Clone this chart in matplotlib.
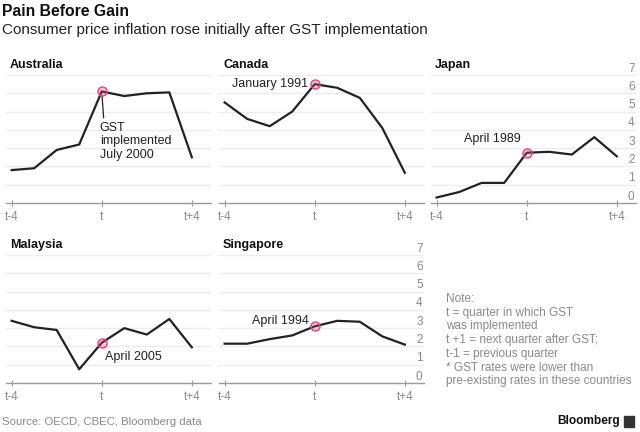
import numpy as np
import matplotlib
matplotlib.use("Agg")
import matplotlib.pyplot as plt
import matplotlib.transforms as mtransforms

plt.rcParams['font.family'] = ['Liberation Sans', 'DejaVu Sans']

W, H = 640, 432

# quarters relative to GST introduction
quarters = [-4, -3, -2, -1, 0, 1, 2, 3, 4]
tick_pos = [-4, 0, 4]
tick_labels = ["t-4", "t", "t+4"]
y_levels = [0, 1, 2, 3, 4, 5, 6, 7]

# consumer price inflation, %
australia = [1.8, 1.9, 2.9, 3.2, 6.1, 5.85, 6.0, 6.05, 2.5]
canada = [5.5, 4.6, 4.2, 5.0, 6.5, 6.3, 5.75, 4.1, 1.65]
japan = [0.3, 0.6, 1.1, 1.1, 2.75, 2.8, 2.65, 3.6, 2.55]
malaysia = [3.4, 3.05, 2.9, 0.75, 2.2, 3.0, 2.65, 3.5, 1.95]
singapore = [2.15, 2.15, 2.4, 2.6, 3.1, 3.4, 3.35, 2.55, 2.1]

LINE = "#222222"
PINK = "#e0457b"
GRID = "#ececec"
GREY = "#8a8a8a"


def px(x, y, w, h):
    # pixel box (from top-left) -> figure fraction rect
    return [x / W, 1 - (y + h) / H, w / W, h / H]


fig = plt.figure(figsize=(6.4, 4.32), dpi=100)

panels = [
    ("Australia", australia, 6, 75, False),
    ("Canada", canada, 219, 75, False),
    ("Japan", japan, 431, 75, True),
    ("Malaysia", malaysia, 6, 255, False),
    ("Singapore", singapore, 219, 255, True),
]

axes = {}
for name, vals, left, top, right_labels in panels:
    ax = fig.add_axes(px(left, top, 205, 128))
    ax.set_xlim(-4.25, 4.85)
    ax.set_ylim(0, 7)
    for v in y_levels[1:]:
        ax.axhline(v, color=GRID, lw=1, zorder=0)
    for s in ["top", "right", "left"]:
        ax.spines[s].set_visible(False)
    ax.spines["bottom"].set_color("#9a9a9a")
    ax.spines["bottom"].set_linewidth(1)
    ax.set_yticks([])
    ax.set_xticks(tick_pos)
    ax.set_xticklabels(tick_labels)
    ax.tick_params(axis="x", direction="inout", length=5, width=0.8,
                   color="#9a9a9a", labelcolor=GREY, labelsize=8.5, pad=3)
    ax.plot(quarters, vals, color=LINE, lw=1.6, clip_on=False, zorder=3)
    ax.plot([0], [vals[4]], "o", ms=6.5, mfc=(0.88, 0.27, 0.48, 0.3),
            mec=PINK, mew=1, zorder=4, clip_on=False)
    ax.annotate(name, xy=(0.02, 1.0), xycoords="axes fraction",
                xytext=(0, 3), textcoords="offset points", fontsize=9,
                fontweight="bold", color="#111111", va="bottom", ha="left")
    if right_labels:
        for v in y_levels:
            ax.annotate(str(v), xy=(1.0, v),
                        xycoords=mtransforms.blended_transform_factory(ax.transAxes, ax.transData),
                        xytext=(-1, 0.3), textcoords="offset points",
                        ha="right", va="bottom", fontsize=8.5, color=GREY)
    axes[name] = ax

# annotations
axes["Australia"].annotate("GST\nimplemented\nJuly 2000", xy=(0, australia[4]),
                           xytext=(-1.5, -22), textcoords="offset points",
                           ha="left", va="top", fontsize=9, color="#222222",
                           linespacing=1.15,
                           arrowprops=dict(arrowstyle="-", color="#222222", lw=0.9,
                                           relpos=(0.06, 1.0), shrinkA=1, shrinkB=3))
axes["Canada"].annotate("January 1991", xy=(0, canada[4]), xytext=(-5, 0),
                        textcoords="offset points", ha="right", va="center",
                        fontsize=9, color="#222222")
axes["Japan"].annotate("April 1989", xy=(0, japan[4]), xytext=(-4, 10),
                       textcoords="offset points", ha="right", va="center",
                       fontsize=9, color="#222222")
axes["Malaysia"].annotate("April 2005", xy=(0, malaysia[4]), xytext=(2, -10),
                          textcoords="offset points", ha="left", va="center",
                          fontsize=9, color="#222222")
axes["Singapore"].annotate("April 1994", xy=(0, singapore[4]), xytext=(-4, 4),
                           textcoords="offset points", ha="right", va="center",
                           fontsize=9, color="#222222")

# headline
fig.text(2 / W, 1 - 11 / H, "Pain Before Gain", fontsize=11.3, fontweight="bold",
         color="#111111", va="center", ha="left")
fig.text(2 / W, 1 - 30 / H, "Consumer price inflation rose initially after GST implementation",
         fontsize=11, color="#222222", va="center", ha="left")

note = ("Note:\n"
        "t = quarter in which GST\n"
        "was implemented\n"
        "t +1 = next quarter after GST;\n"
        "t-1 = previous quarter\n"
        "* GST rates were lower than\n"
        "pre-existing rates in these countries")
fig.text(446 / W, 1 - 293 / H, note, fontsize=8.5, color=GREY, va="top", ha="left",
         linespacing=1.19)

fig.text(2 / W, 1 - 422 / H, "Source: OECD, CBEC, Bloomberg data", fontsize=8.2,
         color=GREY, va="center", ha="left")
fig.text(620 / W, 1 - 421 / H, "Bloomberg", fontsize=8.6, fontweight="bold",
         color="#111111", va="center", ha="right")
fig.patches.append(plt.Rectangle((624 / W, 1 - 427 / H), 10 / W, 11 / H,
                                 transform=fig.transFigure, color="#333333"))

fig.savefig("out.png", dpi=100)
